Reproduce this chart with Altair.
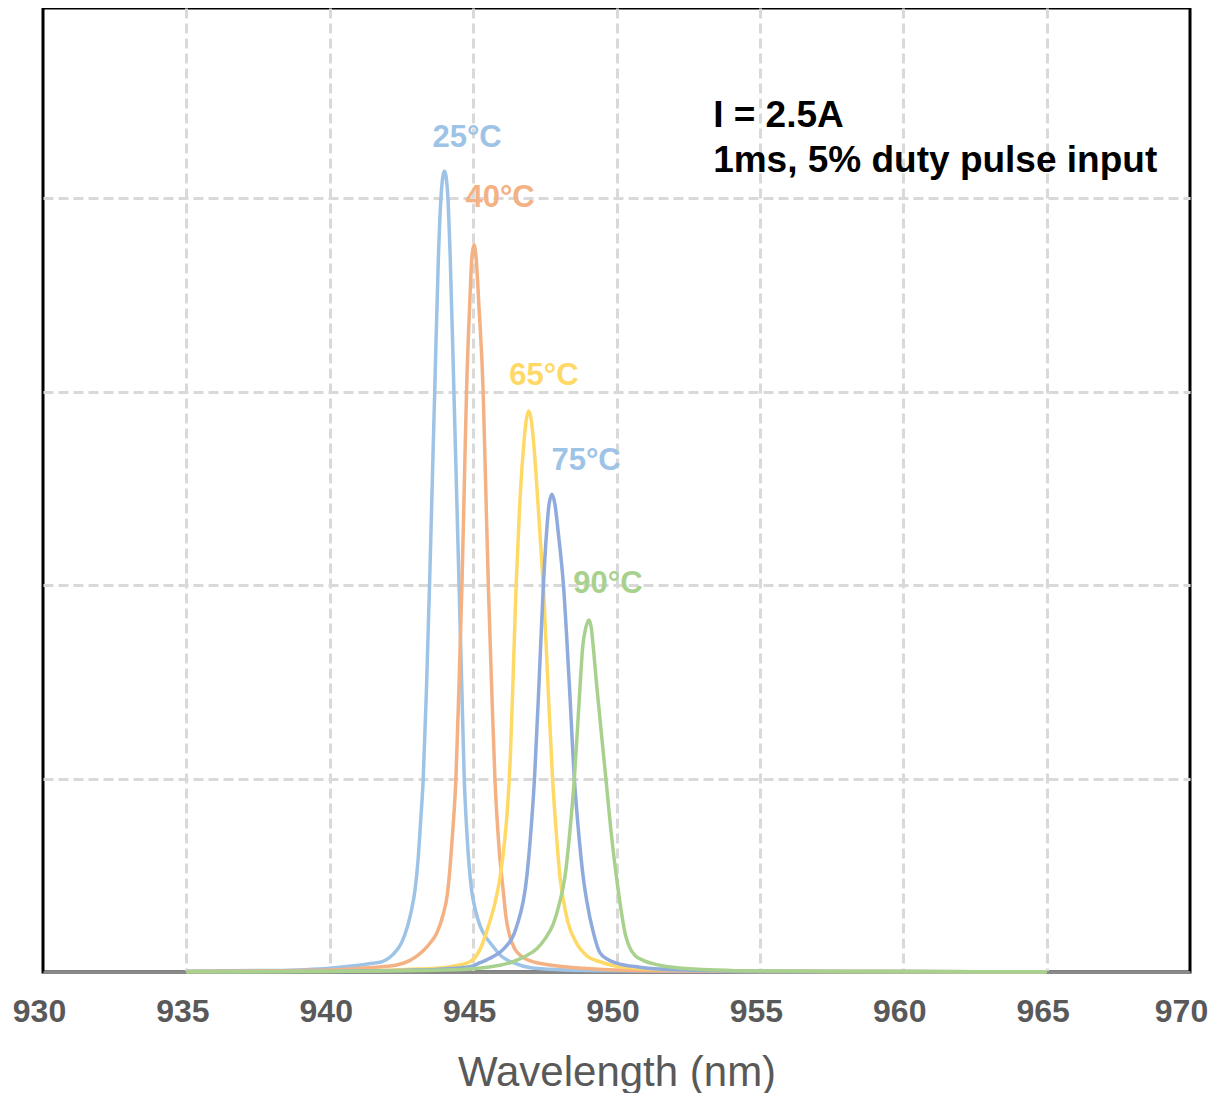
import altair as alt
import pandas as pd

# ---------------- data ----------------
series_names = ["25°C", "40°C", "65°C", "75°C", "90°C"]
line_colors = ["#9DC3E6", "#F4B183", "#FFD966", "#8FAADC", "#A9D18E"]

wl_25 = [935, 938, 940, 941, 941.5, 941.86, 942.2, 942.5, 942.7, 942.85, 942.97, 943.08,
         943.17, 943.26, 943.37, 943.48, 943.57, 943.66, 943.79, 943.9, 944.0, 944.1,
         944.2, 944.33, 944.42, 944.51, 944.6, 944.69, 944.77, 944.86, 944.95, 945.08,
         945.24, 945.4, 945.6, 946.0, 946.4, 947.0, 948, 950, 955, 960, 965]
val_25 = [0.004, 0.008, 0.02, 0.035, 0.045, 0.055, 0.09, 0.15, 0.23, 0.32, 0.42, 0.58,
          0.78, 1.0, 1.45, 2.0, 2.5, 3.0, 3.7, 4.05, 4.14, 4.05,
          3.7, 3.0, 2.5, 2.0, 1.5, 1.0, 0.75, 0.55, 0.42, 0.32,
          0.24, 0.19, 0.15, 0.08, 0.048, 0.022, 0.012, 0.006, 0.003, 0.002, 0.001]

wl_40 = [935, 938, 940, 941, 942, 942.33, 942.8, 943.26, 943.5, 943.73, 943.96, 944.1,
         944.2, 944.3, 944.4, 944.5, 944.61, 944.69, 944.77, 944.88, 944.96, 945.03,
         945.1, 945.2, 945.35, 945.44, 945.53, 945.64, 945.76, 945.9, 946.05, 946.15,
         946.27, 946.45, 946.7, 947.0, 947.68, 948.84, 951.2, 955, 960, 965]
val_40 = [0.003, 0.006, 0.01, 0.018, 0.03, 0.036, 0.06, 0.11, 0.15, 0.2, 0.3, 0.4,
          0.55, 0.75, 1.0, 1.45, 2.0, 2.5, 3.0, 3.45, 3.7, 3.76,
          3.7, 3.45, 3.0, 2.5, 2.0, 1.5, 1.0, 0.65, 0.42, 0.28,
          0.19, 0.12, 0.08, 0.057, 0.036, 0.019, 0.006, 0.003, 0.002, 0.001]

wl_65 = [935, 940, 942, 943, 943.73, 944.3, 944.89, 945.24, 945.53, 945.75, 945.94, 946.1,
         946.2, 946.3, 946.4, 946.5, 946.62, 946.75, 946.85, 946.93, 947.02, 947.12,
         947.24, 947.36, 947.47, 947.62, 947.77, 947.9, 948.03, 948.15, 948.3, 948.61,
         949.0, 949.42, 950.0, 951.0, 952.0, 955, 960, 965]
val_65 = [0.002, 0.005, 0.009, 0.015, 0.019, 0.03, 0.053, 0.117, 0.236, 0.35, 0.49, 0.68,
          0.85, 1.12, 1.55, 2.0, 2.4, 2.7, 2.85, 2.90, 2.86, 2.72,
          2.47, 2.2, 1.93, 1.45, 1.0, 0.72, 0.49, 0.37, 0.26, 0.148,
          0.08, 0.053, 0.03, 0.017, 0.012, 0.005, 0.002, 0.001]

wl_75 = [935, 940, 943, 944, 944.89, 945.24, 945.7, 946.05, 946.52, 946.87, 947.0, 947.14,
         947.3, 947.45, 947.56, 947.65, 947.75, 947.85, 947.97, 948.15, 948.35, 948.53,
         948.68, 948.84, 948.96, 949.2, 949.42, 949.7, 950.0, 950.8, 952.33, 955, 960, 965]
val_75 = [0.002, 0.004, 0.01, 0.016, 0.027, 0.048, 0.08, 0.117, 0.236, 0.49, 0.7, 1.0,
          1.5, 2.0, 2.27, 2.42, 2.47, 2.42, 2.27, 2.0, 1.5, 1.0,
          0.72, 0.49, 0.37, 0.2, 0.1, 0.065, 0.046, 0.025, 0.01, 0.004, 0.002, 0.001]

wl_90 = [935, 940, 944, 945.5, 946.29, 946.8, 947.22, 947.5, 947.8, 948.0, 948.21, 948.37,
         948.53, 948.73, 948.82, 948.93, 949.04, 949.12, 949.19, 949.31, 949.63, 949.8,
         950.0, 950.15, 950.3, 950.45, 950.65, 950.93, 951.5, 952.33, 953.5, 954.66, 958, 965]
val_90 = [0.001, 0.003, 0.01, 0.025, 0.048, 0.08, 0.12, 0.17, 0.25, 0.35, 0.5, 0.72,
          1.0, 1.48, 1.68, 1.78, 1.82, 1.78, 1.68, 1.48, 1.0, 0.74,
          0.49, 0.33, 0.2, 0.13, 0.085, 0.06, 0.035, 0.019, 0.01, 0.005, 0.002, 0.001]

x_ticks = [930, 935, 940, 945, 950, 955, 960, 965, 970]
y_grid = [1, 2, 3, 4]

# peak labels (text, anchor wavelength, anchor value, colour)
label_text = ["25°C", "40°C", "65°C", "75°C", "90°C"]
label_wl = [944.79, 945.94, 947.47, 948.94, 949.70]
label_val = [4.31, 4.00, 3.08, 2.64, 2.005]
label_colors = ["#9DC3E6", "#F4B183", "#FFD966", "#9DC3E6", "#A9D18E"]

note_lines = ["I = 2.5A", "1ms, 5% duty pulse input"]
note_wl = [953.37, 953.37]
note_val = [4.426, 4.193]

# ---------------- build tables ----------------
rows = []
for name, xs, ys in zip(series_names,
                        [wl_25, wl_40, wl_65, wl_75, wl_90],
                        [val_25, val_40, val_65, val_75, val_90]):
    for x, y in zip(xs, ys):
        rows.append({"series": name, "wl": x, "val": y})
df = pd.DataFrame(rows)

labels_df = pd.DataFrame({"text": label_text, "wl": label_wl, "val": label_val})
notes_df = pd.DataFrame({"text": note_lines, "wl": note_wl, "val": note_val})

x_scale = alt.Scale(domain=[930, 970], nice=False, zero=False)
y_scale = alt.Scale(domain=[0, 4.984], nice=False, zero=True)

x_axis = alt.Axis(values=x_ticks, title="Wavelength (nm)", format="d",
                  ticks=False, grid=True, labelFlush=False,
                  labelOffset={"condition": {"test": "datum.value >= 970", "value": -9},
                               "value": -4},
                  labelPadding=24, titlePadding=25,
                  gridOpacity={"condition": {"test": "datum.value <= 930 || datum.value >= 970",
                                             "value": 0}, "value": 1})
y_axis = alt.Axis(values=y_grid, title=None, labels=False, ticks=False,
                  domain=False, grid=True)

lines = alt.Chart(df).mark_line(strokeWidth=3.5, interpolate="monotone").encode(
    x=alt.X("wl:Q", scale=x_scale, axis=x_axis),
    y=alt.Y("val:Q", scale=y_scale, axis=y_axis),
    color=alt.Color("series:N", scale=alt.Scale(domain=series_names, range=line_colors),
                    legend=None),
)

peak_labels = alt.Chart(labels_df).mark_text(
    font="Liberation Sans", fontWeight="bold", fontSize=31, align="center", baseline="middle"
).encode(
    x=alt.X("wl:Q", scale=x_scale),
    y=alt.Y("val:Q", scale=y_scale),
    text="text:N",
    color=alt.Color("text:N", scale=alt.Scale(domain=label_text, range=label_colors),
                    legend=None),
)

notes = alt.Chart(notes_df).mark_text(
    font="Liberation Sans", fontWeight="bold", fontSize=37, align="left", baseline="middle",
    color="#000000"
).encode(
    x=alt.X("wl:Q", scale=x_scale),
    y=alt.Y("val:Q", scale=y_scale),
    text="text:N",
)

chart = alt.layer(lines, peak_labels, notes).resolve_scale(color="independent").properties(
    width=1147, height=964,
    autosize=alt.AutoSizeParams(type="none"),
    padding={"left": 35, "top": 0, "right": 19, "bottom": 121},
).configure_view(
    stroke="#000000", strokeWidth=3
).configure_axis(
    gridColor="#D9D9D9", gridDash=[10, 5], gridWidth=3,
    domainColor="#898989", domainWidth=3,
    labelFont="Liberation Sans", labelFontWeight="bold", labelFontSize=32,
    labelColor="#595959",
    titleFont="Liberation Sans", titleFontWeight="normal", titleFontSize=42,
    titleColor="#595959",
)

chart.save("out.html", embed_options={"renderer": "svg", "actions": False})
